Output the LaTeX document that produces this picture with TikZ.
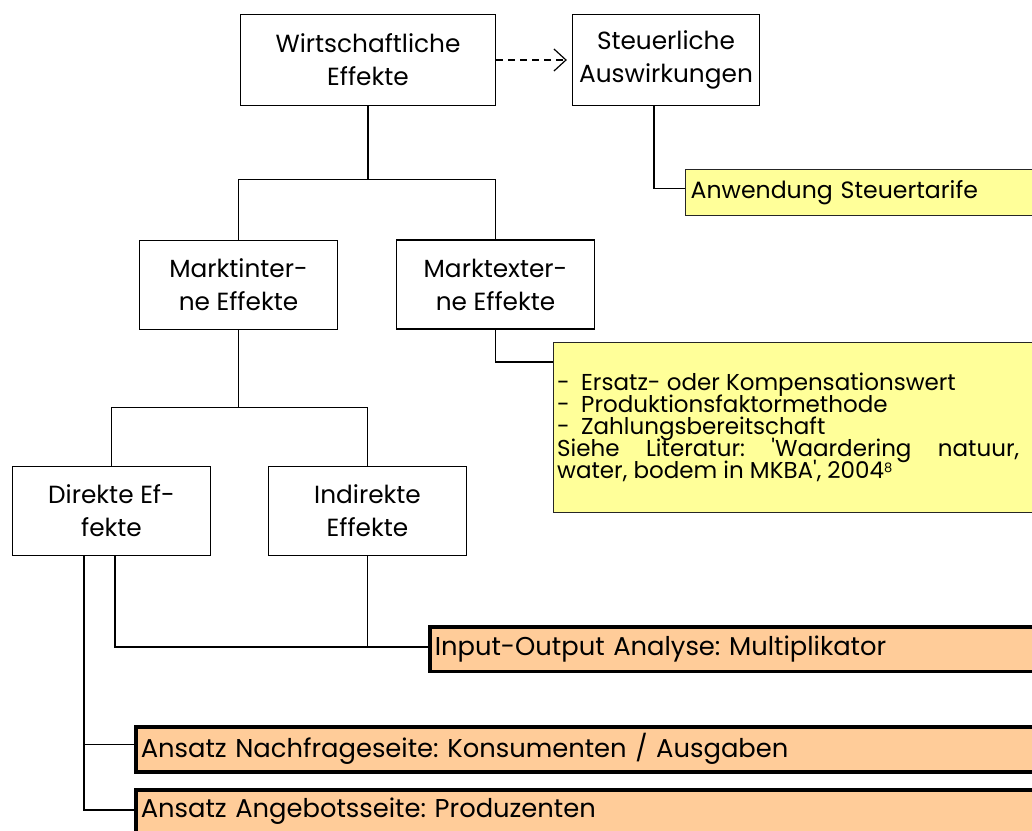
\documentclass[tikz,border=0pt]{standalone}
\usepackage{fontspec}
\setmainfont{Poppins}
\frenchspacing
\usetikzlibrary{arrows.meta,calc}
\definecolor{annY}{HTML}{FFFF99}
\definecolor{annO}{HTML}{FFCC99}
\newcommand\annfont{\fontsize{23}{22}\selectfont\lineskiplimit=-100pt\relax\lineskip=0pt\relax}
\newcommand\smallsup[1]{\raisebox{0.5ex}{\fontsize{13}{13}\selectfont #1}}
\begin{document}
\begin{tikzpicture}[x=1pt,y=-1pt,
  box/.style={draw=black, line width=1.3pt, fill=white, align=center,
    minimum width=198pt, minimum height=89pt, inner sep=0pt,
    font=\fontsize{24.8}{33}\selectfont},
  link/.style={draw=black, line width=1.2pt},
  noteY/.style={draw=black!85, line width=1.3pt, fill=annY, anchor=north west,
    inner xsep=2.5pt, inner ysep=0pt, align=left,
    font=\fontsize{23.6}{22}\selectfont},
  noteO/.style={draw=black, line width=3.5pt, fill=annO, anchor=north west,
    inner xsep=3pt, inner ysep=0pt, align=left,
    font=\fontsize{25.8}{30}\selectfont},
  annotext/.style={anchor=north west, inner sep=0pt, align=justify,
    text width=462pt, font=\annfont}
]
\clip (0,0) rectangle (1032,830);
\fill[white] (0,0) rectangle (1032,830);

% main boxes
\node[box, minimum width=255pt, minimum height=91pt] (w) at (368,60) {Wirtschaftliche\\Effekte};
\node[box, minimum width=187pt, minimum height=91pt] (s) at (666,60) {Steuerliche\\Auswirkungen};
\node[box] (mi) at (238.5,285) {Marktinter-\\ne Effekte};
\node[box] (me) at (495.5,284.5) {Marktexter-\\ne Effekte};
\node[box] (d) at (111.5,511) {Direkte Ef-\\fekte};
\node[box] (i) at (367.5,511) {Indirekte\\Effekte};

% annotation boxes
\node[noteY, minimum width=420pt, minimum height=45.7pt, text width=410pt] (a1) at (685,169) {Anwendung Steuertarife};
\node[noteY, minimum width=520pt, minimum height=169.7pt] (a2) at (553,342) {};
\node[annotext] (a2t) at ($(a2.north west)+(4,31)$) {%
\makebox[24pt][l]{-}Ersatz- oder Kompensationswert\\
\makebox[24pt][l]{-}Produktionsfaktormethode\\
\makebox[24pt][l]{-}Zahlungsbereitschaft\\
Siehe Literatur: \textquotesingle Waardering natuur,\linebreak water, bodem in MKBA\textquotesingle, 2004\smallsup{8}};

\node[noteO, minimum width=640pt, minimum height=44.5pt, text width=630pt] (io) at (428,625) {Input-Output Analyse: Multiplikator};
\node[noteO, minimum width=940pt, minimum height=45pt, text width=930pt] (n) at (134,725) {Ansatz Nachfrageseite: Konsumenten / Ausgaben};
\node[noteO, minimum width=940pt, minimum height=43.5pt, text width=930pt] (ag) at (134,788) {Ansatz Angebotsseite: Produzenten};

% connectors
\draw[link, dash pattern=on 7pt off 5pt, -{Straight Barb[length=12pt,width=22pt]}] (w.east) -- ($(s.west)+(-5,0)$);
\draw[link] (w.south) -- ++(0,74);
\draw[link] (mi.north) -- ++(0,-60) -| (me.north);
\draw[link] ($(s.south)+(-12,0)$) |- ($(a1.west)+(0,-4)$);
\draw[link] (me.south) |- ($(a2.north west)+(0,20)$);
\draw[link] (mi.south) -- ++(0,78);
\draw[link] (d.north) -- ++(0,-58) -| (i.north);
\coordinate (iojoin) at ($(io.west)+(0,-2)$);
\draw[link] ($(d.south)+(3.5,0)$) |- (iojoin);
\draw[link] (i.south) -- (i.south |- iojoin);
\draw[link] ($(d.south)+(-27.5,0)$) |- ($(ag.west)+(0,-1.5)$);
\draw[link] ($(n.west)+(0,-4.5)$) -- ++(-50,0);
\end{tikzpicture}
\end{document}
